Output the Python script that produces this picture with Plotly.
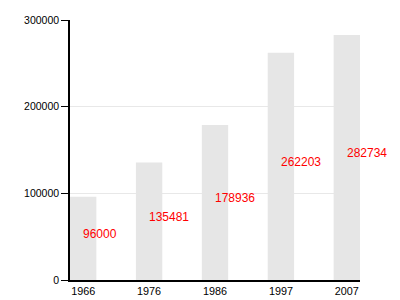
import plotly.graph_objects as go

years = ["1966", "1976", "1986", "1997", "2007"]
values = [96000, 135481, 178936, 262203, 282734]
labels = [str(v) for v in values]
y_ticks = [0, 100000, 200000, 300000]

fig = go.Figure()
fig.add_trace(go.Bar(
    x=list(range(len(years))), y=values, width=0.4,
    marker=dict(color="#e6e6e6", line=dict(width=0)),
    hoverinfo="skip",
))

for i, (v, t) in enumerate(zip(values, labels)):
    fig.add_annotation(
        x=i, y=v / 2, xref="x", yref="y", text=t, showarrow=False,
        xanchor="left", yanchor="bottom", xshift=-2, yshift=-5,
        font=dict(family="Liberation Sans", size=12, color="#ff0000"),
    )

fig.update_layout(
    width=400, height=300,
    margin=dict(l=70, r=40, t=20, b=20, autoexpand=False),
    plot_bgcolor="white", paper_bgcolor="white",
    showlegend=False,
    font=dict(family="Liberation Sans", size=10, color="#000000"),
    xaxis=dict(
        range=[-0.2, 4.2], tickvals=list(range(len(years))), ticktext=years,
        showline=True, linecolor="#000000", linewidth=1.5,
        ticks="", showgrid=False, zeroline=False, automargin=False,
        tickfont=dict(size=10.8),
    ),
    yaxis=dict(
        range=[0, 300000], tickvals=y_ticks, ticktext=[str(v) for v in y_ticks],
        showline=True, linecolor="#000000", linewidth=1.5,
        ticks="outside", ticklen=7, tickcolor="#000000", tickwidth=1,
        showgrid=True, gridcolor="#e8e8e8", gridwidth=1,
        zeroline=False, automargin=False,
        tickfont=dict(size=10.5),
    ),
)

fig.write_html("out.html")
